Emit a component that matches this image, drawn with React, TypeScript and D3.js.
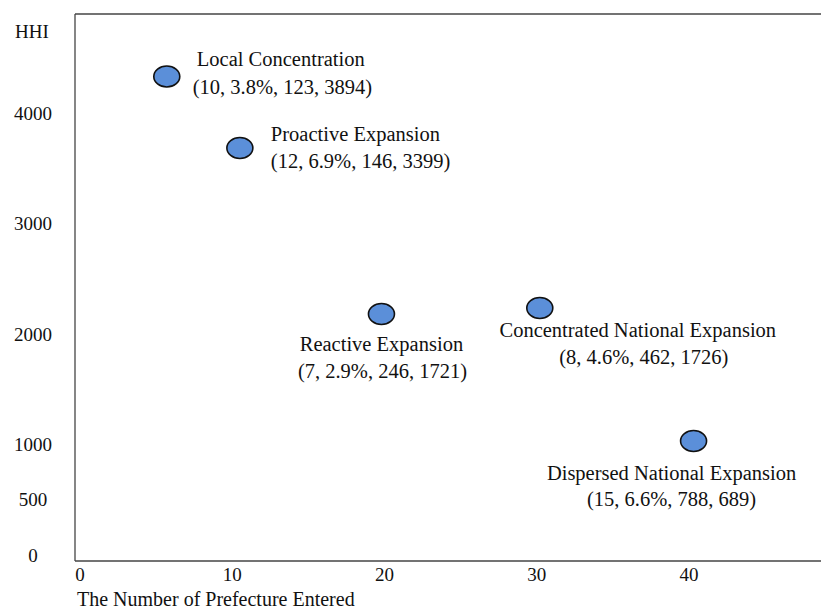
import React from "react";
import * as d3 from "d3";

const groupNames = [
  "Local Concentration",
  "Proactive Expansion",
  "Reactive Expansion",
  "Concentrated National Expansion",
  "Dispersed National Expansion",
];
const groupStats = [
  "(10, 3.8%, 123, 3894)",
  "(12, 6.9%, 146, 3399)",
  "(7, 2.9%, 246, 1721)",
  "(8, 4.6%, 462, 1726)",
  "(15, 6.6%, 788, 689)",
];
const prefecturesEntered = [5.7, 10.5, 19.8, 30.2, 40.3];
const hhiValues = [4330, 3683, 2181, 2235, 1032];

const xTicks = [0, 10, 20, 30, 40];
const yTicks = [0, 500, 1000, 2000, 3000, 4000];

// label layout (pixel offsets from point), not data
const labelLayout = [
  { anchor: "start", l1: [30, -18], l2: [26, 10] },
  { anchor: "start", l1: [31, -14], l2: [31, 13] },
  { anchor: "middle", l1: [0, 30], l2: [1, 57] },
  { anchor: "middle", l1: [98, 22], l2: [104, 49] },
  { anchor: "middle", l1: [-22, 32], l2: [-22, 58] },
];

const W = 821;
const H = 609;
const left = 75;
const top = 14;
const bottom = 561;

export default function App() {
  const x = d3.scaleLinear().domain([0, 40]).range([80, 689]);
  const y = d3.scaleLinear().domain([0, 4000]).range([555, 113]);
  const font = "'Liberation Serif', 'Times New Roman', serif";
  return (
    <svg
      width={W}
      height={H}
      style={{ position: "absolute", left: 0, top: 0, background: "#fff" }}
      fontFamily={font}
      fontSize={19}
    >
      <rect width={W} height={H} fill="#fff" />
      <line x1={left} y1={top} x2={W} y2={top} stroke="#444" strokeWidth={1.3} />
      <line x1={left} y1={top} x2={left} y2={bottom} stroke="#444" strokeWidth={1.3} />
      <line x1={left} y1={bottom} x2={W} y2={bottom} stroke="#444" strokeWidth={1.3} />
      <text x={32} y={31} textAnchor="middle" dominantBaseline="central" fill="#111">
        HHI
      </text>
      {yTicks.map((t) => (
        <text key={t} x={33} y={y(t)} textAnchor="middle" dominantBaseline="central" fill="#111">
          {t}
        </text>
      ))}
      {xTicks.map((t) => (
        <text key={t} x={x(t)} y={574} textAnchor="middle" dominantBaseline="central" fill="#111">
          {t}
        </text>
      ))}
      <text x={77} y={599} textAnchor="start" dominantBaseline="central" fill="#111" fontSize={20}>
        The Number of Prefecture Entered
      </text>
      {groupNames.map((name, i) => {
        const cx = x(prefecturesEntered[i]);
        const cy = y(hhiValues[i]);
        const L = labelLayout[i];
        return (
          <g key={name} fontSize={20.5}>
            <ellipse cx={cx} cy={cy} rx={13} ry={10.5} fill="#5b8fd9" stroke="#111" strokeWidth={1.6} />
            <text x={cx + L.l1[0]} y={cy + L.l1[1]} textAnchor={L.anchor as any} dominantBaseline="central" fill="#111">
              {name}
            </text>
            <text x={cx + L.l2[0]} y={cy + L.l2[1]} textAnchor={L.anchor as any} dominantBaseline="central" fill="#111">
              {groupStats[i]}
            </text>
          </g>
        );
      })}
    </svg>
  );
}
